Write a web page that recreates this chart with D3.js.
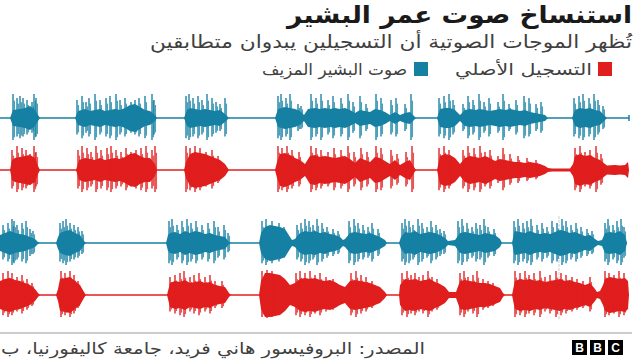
<!DOCTYPE html>
<html><head><meta charset="utf-8">
<script src="https://cdn.jsdelivr.net/npm/d3@7"></script>
<style>
html,body{margin:0;padding:0;background:#fff;}
svg{display:block;font-family:"DejaVu Sans","Noto Sans",sans-serif;}
</style></head>
<body>
<svg id="chart" width="640" height="359"></svg>
<script>
// ---------- text ----------
const titleText = "استنساخ صوت عمر البشير";
const subtitleText = "تُظهر الموجات الصوتية أن التسجيلين يبدوان متطابقين";
const legendLabels = ["التسجيل الأصلي", "صوت البشير المزيف"];
const sourceText = "المصدر: البروفيسور هاني فريد، جامعة كاليفورنيا، ب";
const seriesColors = ["#e01e1e", "#1680a3"];

// ---------- waveform envelopes: [time, half-amplitude] ----------
const fakeBody1 = [[0,0],[10,0],[13,8],[20,9],[25,10],[30,12],[35,8],[38,3],[40,0],
[75,0],[78,7],[85,9],[90,7],[95,8],[100,9],[105,7],[110,8],[115,9],[120,8],[125,10],[130,13],[135,14],[140,11],[145,8],[150,7],[155,3],[157,0],
[184,0],[187,8],[190,10],[195,9],[200,8],[205,9],[210,8],[215,7],[220,8],[225,4],[229,0],
[275,0],[278,9],[285,11],[290,10],[295,9],[300,7],[304,3],[308,9],[315,10],[320,9],[325,10],[330,9],[335,10],[340,9],[345,10],[350,8],[355,5],[360,8],[365,7],[370,6],[375,9],[380,8],[385,6],[390,3],[395,6],[400,3],[405,5],[410,6],[414,2],[416,0],
[437,0],[440,9],[445,10],[450,10],[455,8],[460,3],[465,8],[470,9],[475,8],[480,9],[485,8],[490,7],[495,8],[500,9],[505,8],[510,9],[515,8],[520,7],[525,8],[530,6],[535,5],[540,4],[545,3],[548,0],
[572,0],[575,8],[580,10],[585,9],[590,10],[595,8],[600,7],[604,3],[607,0],[629,0]];

const origBody1 = [[0,0],[10,0],[12,10],[15,12],[20,13],[25,14],[30,15],[35,12],[38,4],[40,0],
[76,0],[79,10],[85,12],[90,11],[95,10],[100,12],[105,10],[110,11],[115,12],[120,11],[125,13],[130,16],[135,17],[140,14],[145,12],[150,12],[155,6],[157,0],
[184,0],[186,8],[190,16],[195,18],[200,17],[205,16],[210,14],[215,12],[220,10],[225,6],[229,0],
[275,0],[277,8],[280,16],[285,17],[290,15],[295,12],[300,10],[305,6],[310,14],[315,15],[320,13],[325,14],[330,13],[335,12],[340,13],[345,14],[350,11],[355,7],[360,12],[365,10],[370,8],[375,13],[380,12],[385,9],[390,6],[395,10],[400,5],[405,8],[410,10],[414,3],[416,0],
[437,0],[440,14],[445,16],[450,15],[455,12],[460,6],[465,12],[470,14],[475,13],[480,12],[485,14],[490,12],[495,9],[500,11],[505,10],[510,9],[515,8],[520,8],[525,7],[530,8],[535,7],[540,6],[545,4],[548,2],[552,1.5],[570,1.5],
[573,6],[575,14],[580,16],[585,14],[590,15],[595,12],[600,10],[605,6],[607,4.5],[615,5],[620,4.5],[625,5],[628,8],[629,0]];

const fakeBody2 = [[0,8],[5,10],[10,12],[15,10],[20,9],[25,8],[30,6],[35,4],[38,1],[40,0],
[56,0],[58,6],[60,10],[65,12],[70,13],[75,10],[80,8],[84,2],[86,0],
[166,0],[168,8],[170,10],[175,11],[180,9],[185,12],[190,10],[195,12],[200,11],[205,9],[210,10],[215,8],[220,7],[225,6],[229,1],[231,0],
[259,0],[261,10],[265,16],[270,18],[275,17],[280,16],[285,14],[290,6],[292,3],[295,4],[300,10],[305,12],[310,11],[315,12],[320,10],[325,11],[330,9],[335,8],[340,6],[343,3],[345,4],[350,10],[355,11],[360,10],[365,9],[370,10],[375,8],[380,6],[385,3],[387,0],
[399,0],[401,6],[405,11],[410,10],[415,12],[420,9],[425,10],[430,11],[435,10],[440,8],[445,5],[448,2],[455,3],[460,10],[465,11],[470,10],[475,9],[480,8],[485,10],[490,9],[495,8],[500,4],[502,0],
[512,0],[514,10],[515,12],[520,11],[525,10],[530,12],[535,10],[540,9],[545,10],[550,9],[555,11],[560,13],[565,12],[570,10],[575,11],[580,9],[585,7],[590,8],[595,4],[598,2],[602,3],[605,10],[610,11],[615,10],[620,12],[625,8],[627,0]];

const origBody2 = [[0,14],[5,16],[10,17],[15,15],[20,14],[25,12],[30,10],[35,6],[38,2],[40,0],
[56,0],[58,6],[60,16],[65,17],[70,18],[75,14],[80,10],[84,3],[86,0],
[167,0],[169,8],[170,12],[175,14],[180,13],[185,15],[190,12],[195,13],[200,14],[205,12],[210,13],[215,10],[220,9],[225,8],[229,2],[231,0],
[259,0],[261,14],[265,22],[270,22],[275,21],[280,20],[285,16],[290,10],[295,12],[300,16],[305,17],[310,16],[315,17],[320,15],[325,14],[330,15],[335,13],[340,10],[345,8],[350,14],[355,15],[360,14],[365,13],[370,12],[375,10],[380,8],[385,3],[387,0],
[399,0],[400,10],[405,16],[410,15],[415,16],[420,14],[425,15],[430,16],[435,13],[440,11],[445,8],[449,3],[456,3],[460,14],[465,15],[470,14],[475,13],[480,12],[485,12],[490,11],[495,9],[500,7],[503,2],[505,0],
[512,0],[514,10],[515,14],[520,16],[525,15],[530,16],[535,14],[540,15],[545,13],[550,14],[555,15],[560,16],[565,14],[570,15],[575,13],[580,12],[585,10],[590,12],[595,6],[597,3],[600,4],[603,10],[605,16],[610,18],[615,17],[620,16],[625,17],[628,14],[629,0]];

// ---------- spikes: [time, peak half-amplitude] ----------
const fakeSpikes1 = [[13,24],[17,20],[20,22],[23,20],[27,18],[32,16],[34,24],[36,20],[77,18],[82,22],[86,16],[89,20],[95,24],[100,18],[106,20],[110,22],[116,24],[120,18],[125,20],[131,16],[135,18],[139,20],[145,22],[152,24],[154,18],[186,22],[189,24],[193,20],[198,22],[202,18],[207,24],[212,20],[216,16],[220,14],[225,20],[278,22],[281,24],[286,20],[290,24],[298,14],[301,12],[311,24],[316,20],[321,24],[328,18],[333,22],[341,20],[348,24],[353,16],[360,22],[366,14],[376,24],[381,20],[391,18],[396,20],[405,14],[411,24],[439,20],[444,22],[449,24],[453,18],[463,14],[468,22],[473,18],[479,24],[484,16],[489,20],[498,16],[503,24],[509,14],[516,18],[524,22],[529,20],[536,14],[541,16],[574,20],[579,22],[583,24],[589,20],[594,24],[598,18],[603,12]];

const origSpikes1 = [[12,20],[17,24],[22,22],[26,20],[30,16],[34,24],[36,18],[78,20],[82,24],[87,22],[91,18],[96,24],[101,20],[107,22],[111,24],[116,20],[121,18],[126,22],[131,18],[136,20],[141,22],[146,24],[152,20],[155,24],[186,24],[190,22],[195,24],[200,22],[206,18],[212,20],[218,14],[278,24],[282,22],[287,24],[292,20],[299,18],[311,24],[316,22],[321,20],[328,18],[334,22],[341,20],[348,24],[354,18],[361,22],[367,18],[376,24],[381,22],[391,20],[397,16],[406,18],[412,24],[439,22],[444,24],[449,20],[463,20],[468,24],[474,22],[480,24],[485,18],[490,20],[498,14],[503,22],[510,16],[518,14],[527,12],[536,10],[575,22],[580,24],[585,18],[590,20],[596,24],[601,16]];

const fakeSpikes2 = [[3,18],[8,20],[12,24],[14,22],[17,18],[22,20],[26,22],[30,14],[33,12],[60,20],[63,22],[66,24],[70,20],[74,18],[78,16],[82,12],[169,22],[172,24],[177,18],[182,22],[187,24],[191,20],[196,22],[202,18],[208,20],[214,22],[218,16],[224,18],[228,10],[262,22],[266,24],[272,22],[279,20],[284,16],[297,18],[301,20],[305,24],[309,22],[313,18],[317,24],[322,20],[327,16],[333,14],[338,12],[349,22],[354,24],[358,20],[363,18],[368,16],[372,20],[378,14],[402,20],[405,24],[409,22],[413,18],[418,24],[422,20],[427,16],[431,22],[436,18],[440,14],[444,12],[458,22],[462,24],[467,20],[472,16],[476,20],[480,18],[484,24],[488,16],[494,14],[514,22],[518,24],[523,20],[527,22],[531,24],[537,18],[542,20],[547,16],[552,22],[557,20],[562,24],[566,22],[571,18],[576,20],[581,16],[587,14],[592,12],[605,20],[608,24],[613,18],[617,22],[621,24],[624,16]];

const origSpikes2 = [[3,22],[8,24],[12,22],[17,18],[22,20],[27,16],[32,12],[61,24],[65,22],[70,24],[74,20],[78,14],[170,18],[175,20],[180,22],[184,24],[190,18],[194,20],[199,22],[205,18],[210,20],[215,14],[222,14],[262,24],[267,25],[272,24],[296,22],[300,24],[305,22],[310,24],[315,20],[320,22],[326,18],[333,16],[351,22],[356,24],[361,20],[366,18],[372,14],[402,22],[407,24],[411,20],[415,22],[419,18],[423,20],[428,24],[432,18],[437,16],[460,22],[464,24],[468,18],[473,20],[477,24],[483,16],[488,14],[493,12],[515,24],[520,22],[525,24],[529,20],[534,22],[540,24],[545,18],[550,20],[556,24],[561,22],[566,20],[572,18],[577,16],[583,14],[590,18],[605,24],[609,22],[614,20],[619,24],[624,22]];

// baseline extents [start, end] per row
const baselineSpans = [[0,629],[0,629],[0,627],[0,629]];

const rows = [
  {body: fakeBody1, spikes: fakeSpikes1, color: seriesColors[1], pair: 0, slot: 0, span: baselineSpans[0]},
  {body: origBody1, spikes: origSpikes1, color: seriesColors[0], pair: 0, slot: 1, span: baselineSpans[1]},
  {body: fakeBody2, spikes: fakeSpikes2, color: seriesColors[1], pair: 1, slot: 0, span: baselineSpans[2]},
  {body: origBody2, spikes: origSpikes2, color: seriesColors[0], pair: 1, slot: 1, span: baselineSpans[3]}
];

// ---------- drawing ----------
const svg = d3.select("#chart");

const x = d3.scaleLinear().domain([0, 630]).range([0, 630]);
const pairY = d3.scaleLinear().domain([0, 1]).range([118, 243]);
const slotOffset = d3.scaleLinear().domain([0, 1]).range([0, 52]);
const amp = d3.scaleLinear().domain([0, 25]).range([0, 25]);

const rowCenter = r => pairY(r.pair) + slotOffset(r.slot);

function rtlText(sel, px, py, size, txt, width, weight, fill) {
  const t = sel.append("text").attr("x", px).attr("y", py)
    .attr("direction", "rtl").attr("text-anchor", "start")
    .style("font-size", size + "px").style("font-weight", weight || "normal")
    .attr("fill", fill || "#333").text(txt);
  if (width) t.attr("textLength", width).attr("lengthAdjust", "spacingAndGlyphs");
  return t;
}

// title & subtitle
rtlText(svg, 632, 23, 24, titleText, 345, "bold", "#1a1a1a");
rtlText(svg, 632, 48, 18, subtitleText, 482, "normal", "#404040");

// legend
const legend = svg.append("g");
legend.append("rect").attr("x", 598).attr("y", 62).attr("width", 14).attr("height", 14).attr("fill", seriesColors[0]);
rtlText(legend, 592, 75, 16, legendLabels[0], 137, "normal", "#404040");
legend.append("rect").attr("x", 414).attr("y", 62).attr("width", 14).attr("height", 14).attr("fill", seriesColors[1]);
rtlText(legend, 407, 75, 16, legendLabels[1], 145, "normal", "#404040");

// grey marker line
svg.append("line").attr("x1", x(559)).attr("x2", x(559)).attr("y1", 216).attr("y2", 320)
  .attr("stroke", "#bbb").attr("stroke-width", 1).attr("stroke-dasharray", "3,1").attr("opacity", 0.7);

rows.forEach(r => {
  const c = rowCenter(r);
  const g = svg.append("g");
  g.append("line").attr("x1", x(r.span[0])).attr("x2", x(r.span[1]))
    .attr("y1", c).attr("y2", c).attr("stroke", r.color).attr("stroke-width", 1.6);
  g.append("path").datum(r.body)
    .attr("d", d3.area().x(d => x(d[0])).y0(d => c + amp(d[1])).y1(d => c - amp(d[1])))
    .attr("fill", r.color);
  // main spikes
  g.selectAll("line.spike").data(r.spikes).join("line").attr("class", "spike")
    .attr("x1", d => x(d[0])).attr("x2", d => x(d[0]))
    .attr("y1", d => c - amp(d[1])).attr("y2", d => c + amp(d[1]) * 0.92)
    .attr("stroke", r.color).attr("stroke-width", 1.5).attr("opacity", 0.9);
  // shoulders (shorter strokes beside each spike for a denser, hairy look)
  g.selectAll("line.shoulder").data(r.spikes).join("line").attr("class", "shoulder")
    .attr("x1", d => x(d[0]) + 1.4).attr("x2", d => x(d[0]) + 1.4)
    .attr("y1", d => c - amp(d[1]) * 0.72).attr("y2", d => c + amp(d[1]) * 0.8)
    .attr("stroke", r.color).attr("stroke-width", 1.3).attr("opacity", 0.75);
});
svg.append("line").attr("x1", x(629)).attr("x2", x(629)).attr("y1", rowCenter(rows[0]) - 3).attr("y2", rowCenter(rows[0]) + 3)
  .attr("stroke", seriesColors[1]).attr("stroke-width", 1.5);

// footer
svg.append("line").attr("x1", 0).attr("x2", 632).attr("y1", 333).attr("y2", 333)
  .attr("stroke", "#999").attr("stroke-width", 1);
rtlText(svg, 425, 354, 16, sourceText, 424, "normal", "#404040");

const bbc = svg.append("g");
["B", "B", "C"].forEach((ch, i) => {
  bbc.append("rect").attr("x", 572 + i * 18).attr("y", 340).attr("width", 15).attr("height", 15).attr("fill", "#000");
  bbc.append("text").attr("x", 572 + i * 18 + 7.5).attr("y", 352).attr("text-anchor", "middle")
    .style("font-size", "12px").style("font-weight", "bold").style("font-family", "'Liberation Sans', Arial, sans-serif")
    .attr("fill", "#fff").text(ch);
});
</script>
</body></html>
